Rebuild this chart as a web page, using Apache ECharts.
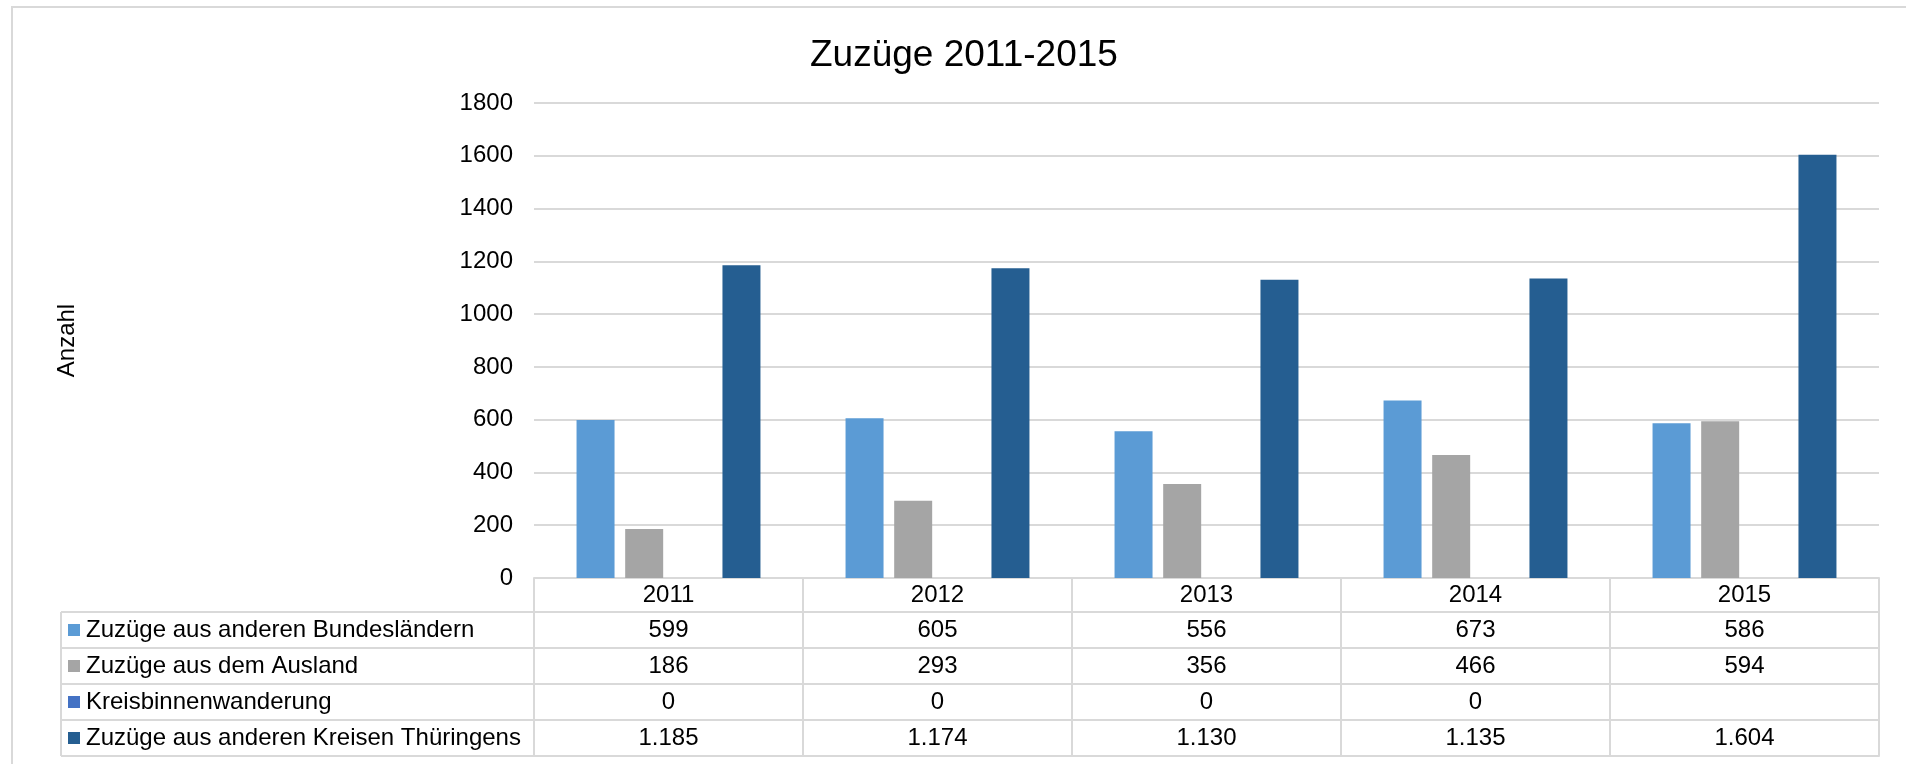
<!doctype html>
<html>
<head>
<meta charset="utf-8">
<title>Zuzüge 2011-2015</title>
<script src="https://cdn.jsdelivr.net/npm/echarts@6/dist/echarts.min.js"></script>
<style>
  html, body { margin:0; padding:0; background:#fff; }
  #main { width:1906px; height:764px; }
</style>
</head>
<body>
<div id="main"></div>
<script type="text/javascript">
// data
var years = ['2011', '2012', '2013', '2014', '2015'];
var bundeslaender = [599, 605, 556, 673, 586];
var ausland = [186, 293, 356, 466, 594];
var kreisbinnen = [0, 0, 0, 0, null];
var thueringen = [1185, 1174, 1130, 1135, 1604];
var seriesNames = [
  'Zuzüge aus anderen Bundesländern',
  'Zuzüge aus dem Ausland',
  'Kreisbinnenwanderung',
  'Zuzüge aus anderen Kreisen Thüringens'
];
var seriesData = [bundeslaender, ausland, kreisbinnen, thueringen];
var colors = ['#5b9bd5', '#a5a5a5', '#4472c4', '#255e91'];

var FONT = '"Liberation Sans", Arial, sans-serif';
var LINE = '#d9d9d9';
var plotLeft = 534, plotRight = 27, plotTop = 103, plotBottom = 186;
var rowOffsets = [34, 70, 106, 142];   // table rows below the axis
var rowH = 36;

// 1.185 style (german thousands)
function fmt(v) {
  if (v === null || v === undefined) return '';
  var s = String(v);
  return s.replace(/\B(?=(\d{3})+(?!\d))/g, '.');
}

var myChart = echarts.init(document.getElementById('main'));

var xAxes = [{
  type: 'category',
  data: years,
  position: 'bottom',
  axisLine: { show: true, lineStyle: { color: LINE, width: 2 } },
  axisTick: { show: true, length: 34, interval: 0, lineStyle: { color: LINE, width: 2 } },
  axisLabel: { interval: 0, color: '#000', fontSize: 24, fontFamily: FONT, margin: 5, lineHeight: 24 }
}];
seriesData.forEach(function (vals, k) {
  xAxes.push({
    type: 'category',
    data: years,
    position: 'bottom',
    offset: rowOffsets[k],
    axisLine: { show: true, lineStyle: { color: LINE, width: 2 } },
    axisTick: { show: true, length: rowH, interval: 0, lineStyle: { color: LINE, width: 2 } },
    axisLabel: {
      interval: 0, color: '#000', fontSize: 24, fontFamily: FONT, margin: 6, lineHeight: 24,
      formatter: function (value, idx) { return fmt(vals[idx]); }
    }
  });
});
// bottom line of the table
xAxes.push({
  type: 'category',
  data: years,
  position: 'bottom',
  offset: rowOffsets[3] + rowH,
  axisLine: { show: true, lineStyle: { color: LINE, width: 2 } },
  axisTick: { show: false },
  axisLabel: { show: false }
});

// left column of the table (series names)
var graphics = [{
  type: 'rect', z: -1, silent: true,
  shape: { x: 12, y: 7, width: 2000, height: 900 },
  style: { fill: 'none', stroke: LINE, lineWidth: 2 }
}];
var tblLeft = 61;
var rowTop0 = 764 - plotBottom + rowOffsets[0];
graphics.push({
  type: 'line', silent: true,
  shape: { x1: tblLeft, y1: rowTop0, x2: tblLeft, y2: rowTop0 + 4 * rowH },
  style: { stroke: LINE, lineWidth: 2 }
});
for (var r = 0; r <= 4; r++) {
  graphics.push({
    type: 'line', silent: true,
    shape: { x1: tblLeft, y1: rowTop0 + r * rowH, x2: plotLeft, y2: rowTop0 + r * rowH },
    style: { stroke: LINE, lineWidth: 2 }
  });
}
seriesNames.forEach(function (name, k) {
  var cy = rowTop0 + k * rowH + rowH / 2;
  graphics.push({
    type: 'rect', silent: true,
    shape: { x: 68, y: cy - 6, width: 12, height: 12 },
    style: { fill: colors[k] }
  });
  graphics.push({
    type: 'text', silent: true,
    x: 86, y: cy,
    style: { text: name, fill: '#000', font: '24px ' + FONT, textAlign: 'left', textVerticalAlign: 'middle' }
  });
});

var series = seriesData.map(function (vals, k) {
  return {
    name: seriesNames[k],
    type: 'bar',
    data: vals,
    barWidth: 38,
    barGap: '28%',
    itemStyle: { color: colors[k] }
  };
});

var option = {
  animation: false,
  textStyle: { fontFamily: FONT },
  title: {
    text: 'Zuzüge 2011-2015',
    left: 805,
    top: 32,
    textStyle: { fontSize: 37, fontWeight: 'normal', color: '#000', fontFamily: FONT }
  },
  grid: { left: plotLeft, right: plotRight, top: plotTop, bottom: plotBottom, containLabel: false },
  xAxis: xAxes,
  yAxis: {
    type: 'value',
    min: 0,
    max: 1800,
    interval: 200,
    name: 'Anzahl',
    nameLocation: 'middle',
    nameRotate: 90,
    nameGap: 455,
    nameTextStyle: { fontSize: 24, color: '#000', fontFamily: FONT },
    axisLine: { show: false },
    axisTick: { show: false },
    axisLabel: {
      color: '#000', fontSize: 24, fontFamily: FONT, margin: 21,
      formatter: function (v) { return String(v); }
    },
    splitLine: { lineStyle: { color: LINE, width: 2 } }
  },
  graphic: graphics,
  series: series
};
myChart.setOption(option);
</script>
</body>
</html>
